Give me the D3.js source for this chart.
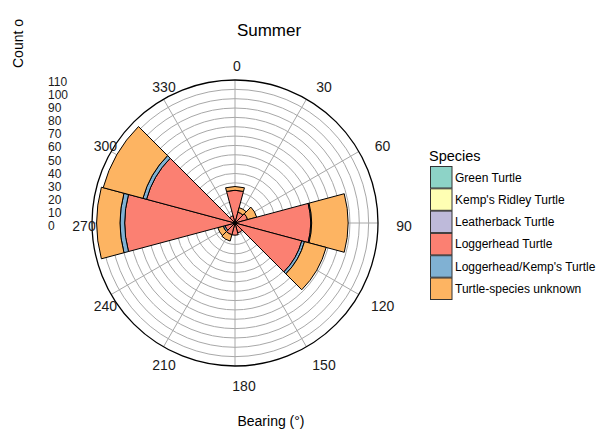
<!DOCTYPE html>
<html><head><meta charset="utf-8">
<script src="https://cdn.jsdelivr.net/npm/d3@7"></script>
<style>body{margin:0;background:#fff}svg{display:block;font-family:"Liberation Sans",Arial,sans-serif}</style>
</head><body><svg id="c" width="602" height="430"></svg>
<script>
const bearings = [0,30,60,90,120,150,180,210,240,270,300,330];
const species = ["Green Turtle","Kemp's Ridley Turtle","Leatherback Turtle","Loggerhead Turtle","Loggerhead/Kemp's Turtle","Turtle-species unknown"];
const colors = ["#8DD3C7","#FFFFB3","#BEBADA","#FB8072","#80B1D3","#FDB462"];
const green       = [0,0,0,0,0,0,0,0,0,0,0,0];
const kempsRidley = [0,0,0,0,0,0,0,0,0,0,0,0];
const leatherback = [0,0,0,0,0,0,0,0,0,0,0,0];
const loggerhead  = [32,9,11,78,71,8,10,10,8,115,95,5];
const logKemp     = [0,0,0,1,3,0,0,0,2,5,4,0];
const unknown     = [4,5,10,39,24,0,0,7,6,25,44,0];
const radialTicks = [0,10,20,30,40,50,60,70,80,90,100,110];
const angleTicks = [0,30,60,90,120,150,180,210,240,270,300,330];

const svg = d3.select("#c");
const cx = 235, cy = 223;
const r = d3.scaleLinear().domain([-3,150]).range([0,143]);
const g = svg.append("g").attr("transform",`translate(${cx},${cy})`);

// grid rings
const rings = d3.range(10,141,10);
g.selectAll("circle.ring").data(rings).join("circle")
  .attr("r", d=>r(d)).attr("fill","none").attr("stroke","#a8a8a8").attr("stroke-width",1);
// spokes
g.selectAll("line.spoke").data(angleTicks).join("line")
  .attr("x1",0).attr("y1",0)
  .attr("x2",d=>r(150)*Math.sin(d*Math.PI/180))
  .attr("y2",d=>-r(150)*Math.cos(d*Math.PI/180))
  .attr("stroke","#a8a8a8").attr("stroke-width",1);

// stacked bars (inner to outer: loggerhead, loggerhead/kemp, unknown, then others)
const order = [loggerhead, logKemp, unknown, green, kempsRidley, leatherback];
const orderColors = [colors[3],colors[4],colors[5],colors[0],colors[1],colors[2]];
const arc = d3.arc();
const segs = [];
bearings.forEach((b,i)=>{
  let base = 0;
  order.forEach((arr,k)=>{
    const v = arr[i];
    if(v>0){
      segs.push({b, y0:base, y1:base+v, color:orderColors[k]});
      base += v;
    }
  });
});
g.selectAll("path.bar").data(segs).join("path")
  .attr("d", d=>arc({innerRadius: d.y0===0?0:r(d.y0), outerRadius:r(d.y1),
     startAngle:(d.b-15)*Math.PI/180, endAngle:(d.b+15)*Math.PI/180}))
  .attr("fill",d=>d.color).attr("stroke","#000").attr("stroke-width",1).attr("stroke-linejoin","round");

// outer circle
g.append("circle").attr("r",r(150)).attr("fill","none").attr("stroke","#000").attr("stroke-width",1.3);

// angle labels
const lab = svg.append("g").attr("font-size",14).attr("fill","#1a1a1a");
lab.selectAll("text").data(angleTicks).join("text")
  .attr("x", d=> (d===0? cx+2 : cx+9) + 160*Math.sin(d*Math.PI/180))
  .attr("y", d=> cy+3 - 160*Math.cos(d*Math.PI/180))
  .attr("text-anchor","middle").attr("dominant-baseline","central")
  .text(d=>d);

// radial tick labels column
const ty = d3.scaleLinear().domain([0,110]).range([226,82]);
svg.append("g").attr("font-size",12).attr("fill","#1a1a1a")
  .selectAll("text").data(radialTicks).join("text")
  .attr("x",48).attr("y",d=>ty(d)).attr("dominant-baseline","central").text(d=>d);

// title and axis titles
svg.append("text").attr("x",269).attr("y",36).attr("text-anchor","middle").attr("font-size",17).attr("fill","#000").text("Summer");
svg.append("text").attr("transform","translate(23,68) rotate(-90)").attr("font-size",14).attr("fill","#000").text("Count o");
svg.append("text").attr("x",271).attr("y",426).attr("text-anchor","middle").attr("font-size",14).attr("fill","#000").text("Bearing (°)");

// legend
const lg = svg.append("g").attr("transform","translate(430,145)");
lg.append("text").attr("x",-1).attr("y",16).attr("font-size",14.5).attr("fill","#000").text("Species");
const item = lg.selectAll("g.item").data(species).join("g")
  .attr("transform",(d,i)=>`translate(0,${21+i*22.3})`);
item.append("rect").attr("x",0.5).attr("y",0.5).attr("width",21.5).attr("height",21.5)
  .attr("fill",(d,i)=>colors[i]).attr("stroke","#333").attr("stroke-width",1);
item.append("text").attr("x",25).attr("y",11.5).attr("dominant-baseline","central")
  .attr("font-size",12).attr("fill","#000").text(d=>d);
</script>
</body></html>
